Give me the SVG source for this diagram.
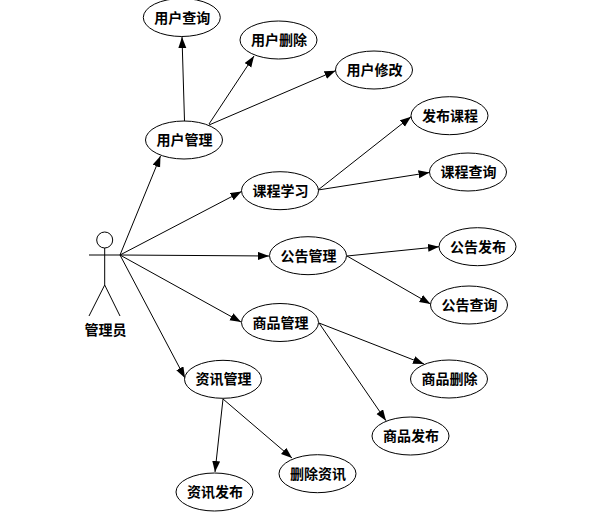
<svg xmlns="http://www.w3.org/2000/svg" width="607" height="515" viewBox="0 0 607 515">
<style>
text{font-family:"Noto Sans CJK SC","Liberation Sans",sans-serif;font-size:14px;font-weight:700;fill:#000;text-anchor:middle;dominant-baseline:central;transform:translate(0.5px,-1px)}
.u ellipse{fill:#fff;stroke:#000;stroke-width:1}
#connectors line{stroke:#000;stroke-width:1;marker-end:url(#a)}
#actor line,#actor circle{fill:#fff;stroke:#000;stroke-width:1}
</style>
<defs><marker id="a" markerUnits="userSpaceOnUse" markerWidth="12" markerHeight="9" refX="11" refY="4" orient="auto"><path d="M0 0L11 4L0 8Z" fill="#000"/></marker></defs>
<rect width="607" height="515" fill="#fff"/>
<g id="connectors">
<line x1="120" y1="255" x2="160.5" y2="156"/>
<line x1="120" y1="255" x2="241.5" y2="191.5"/>
<line x1="120" y1="255" x2="269" y2="256"/>
<line x1="120" y1="255" x2="241" y2="322"/>
<line x1="120" y1="255" x2="185" y2="378"/>
<line x1="184.5" y1="121" x2="182" y2="37"/>
<line x1="209" y1="124" x2="254" y2="56"/>
<line x1="209" y1="125" x2="335.5" y2="70.7"/>
<line x1="318" y1="190" x2="411" y2="116.7"/>
<line x1="318" y1="190" x2="429.5" y2="172.5"/>
<line x1="347" y1="256" x2="439" y2="246.7"/>
<line x1="347" y1="256" x2="430.5" y2="304"/>
<line x1="319" y1="323" x2="424" y2="364"/>
<line x1="319" y1="323" x2="386" y2="420.7"/>
<line x1="223" y1="399" x2="215" y2="472"/>
<line x1="223" y1="399" x2="292" y2="458"/>
</g>
<g id="actor">
<circle cx="104.7" cy="240" r="8"/>
<line x1="104.7" y1="248" x2="104.7" y2="285"/>
<line x1="89" y1="255" x2="120" y2="255"/>
<line x1="104.7" y1="285" x2="89" y2="316"/>
<line x1="104.7" y1="285" x2="120" y2="316"/>
<text x="105" y="330">管理员</text>
</g>
<g id="n1" class="u"><ellipse cx="181.8" cy="17.5" rx="38.5" ry="19"/><text x="181.8" y="17.5">用户查询</text></g>
<g id="n2" class="u"><ellipse cx="278.5" cy="40" rx="38.5" ry="19"/><text x="278.5" y="40">用户删除</text></g>
<g id="n3" class="u"><ellipse cx="374" cy="70" rx="38.5" ry="19"/><text x="374" y="70">用户修改</text></g>
<g id="n4" class="u"><ellipse cx="184" cy="140" rx="38.5" ry="19"/><text x="184" y="140">用户管理</text></g>
<g id="n5" class="u"><ellipse cx="449.5" cy="115.7" rx="38.5" ry="19"/><text x="449.5" y="115.7">发布课程</text></g>
<g id="n6" class="u"><ellipse cx="468" cy="172" rx="38.5" ry="19"/><text x="468" y="172">课程查询</text></g>
<g id="n7" class="u"><ellipse cx="280" cy="190.7" rx="38.5" ry="19"/><text x="280" y="190.7">课程学习</text></g>
<g id="n8" class="u"><ellipse cx="477.5" cy="246.7" rx="38.5" ry="19"/><text x="477.5" y="246.7">公告发布</text></g>
<g id="n9" class="u"><ellipse cx="308" cy="255.7" rx="38.5" ry="19"/><text x="308" y="255.7">公告管理</text></g>
<g id="n10" class="u"><ellipse cx="469" cy="305" rx="38.5" ry="19"/><text x="469" y="305">公告查询</text></g>
<g id="n11" class="u"><ellipse cx="280" cy="322.5" rx="38.5" ry="19"/><text x="280" y="322.5">商品管理</text></g>
<g id="n12" class="u"><ellipse cx="449" cy="379" rx="38.5" ry="19"/><text x="449" y="379">商品删除</text></g>
<g id="n13" class="u"><ellipse cx="223" cy="379.3" rx="38.5" ry="19"/><text x="223" y="379.3">资讯管理</text></g>
<g id="n14" class="u"><ellipse cx="410.5" cy="436" rx="38.5" ry="19"/><text x="410.5" y="436">商品发布</text></g>
<g id="n15" class="u"><ellipse cx="317.5" cy="473.7" rx="38.5" ry="19"/><text x="317.5" y="473.7">删除资讯</text></g>
<g id="n16" class="u"><ellipse cx="214.5" cy="492" rx="38.5" ry="19"/><text x="214.5" y="492">资讯发布</text></g>
</svg>
